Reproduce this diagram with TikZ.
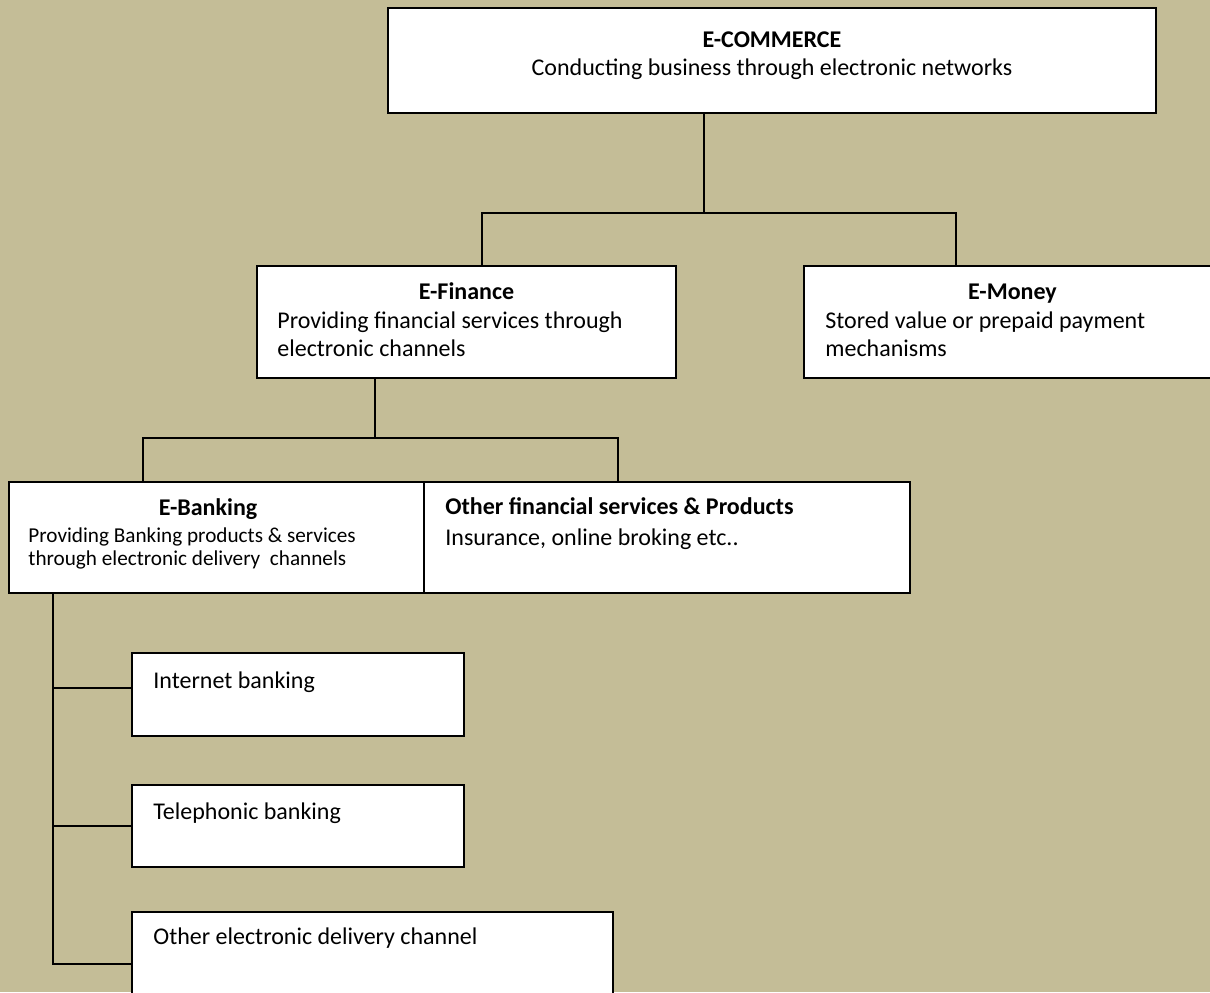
\documentclass[tikz,border=0pt]{standalone}
\usepackage{fontspec}
\setmainfont{Carlito}
\usetikzlibrary{positioning}
\definecolor{tanbg}{HTML}{C4BD97}

\begin{document}
\begin{tikzpicture}[x=0.5pt, y=-0.5pt,
    panel/.style={rectangle, draw, fill=white, line width=0.9pt, inner sep=0pt, outer sep=0pt, anchor=north west},
    txt/.style={inner sep=0pt, font=\fontsize{12pt}{14pt}\selectfont},
    head/.style={txt, font=\fontsize{12pt}{14pt}\selectfont\bfseries},
    link/.style={line width=0.8pt}]

\useasboundingbox (0,0) rectangle (1210,992);
\clip (0,0) rectangle (1210,992);
\fill[tanbg] (0,0) rectangle (1210,992);

% boxes
\node[panel, minimum width=384pt, minimum height=52.5pt] (ecom) at (388,8) {};
\node[panel, minimum width=209.5pt, minimum height=56pt] (efin) at (257,266) {};
\node[panel, minimum width=208.5pt, minimum height=56pt] (emoney) at (804,266) {};
\node[panel, minimum width=207.5pt, minimum height=55.5pt] (ebank) at (9,482) {};
\node[panel, minimum width=243pt, minimum height=55.5pt, right=0pt of ebank] (other) {};
\node[panel, minimum width=166pt, minimum height=41.5pt] (inet) at (132,653) {};
\node[panel, minimum width=166pt, minimum height=41pt, below=24.5pt of inet] (tel) {};
\node[panel, minimum width=240.5pt, minimum height=41.5pt, below=22.5pt of tel.south west, anchor=north west] (oth) {};

% texts
\node[head, anchor=base] (ecomhead) at ([shift={(0,39)}]ecom.north) {E-COMMERCE};
\node[txt, anchor=base] (ecomtxt) at ([shift={(0,67)}]ecom.north) {Conducting business through electronic networks};

\node[head, anchor=base] (efinhead) at ([shift={(0,33)}]efin.north) {E-Finance};
\node[txt, align=left, anchor=base west] (efintxt) at ([shift={(20,90)}]efin.north west)
    {Providing financial services through\\ electronic channels};

\node[head, anchor=base] (emoneyhead) at ([shift={(0,33)}]emoney.north) {E-Money};
\node[txt, align=left, anchor=base west] (emoneytxt) at ([shift={(21,90)}]emoney.north west)
    {Stored value or prepaid payment\\ mechanisms};

\node[head, anchor=base] (ebankhead) at ([shift={(-8.5,33)}]ebank.north) {E-Banking};
\node[txt, align=left, anchor=base west, font=\fontsize{10.6pt}{11.5pt}\selectfont] (ebanktxt) at ([shift={(19,83)}]ebank.north west)
    {Providing Banking products \& services\\ through electronic delivery~ channels};

\node[head, anchor=base west] (otherhead) at ([shift={(21,32)}]other.north west) {Other financial services \& Products};
\node[txt, anchor=base west] (othertxt) at ([shift={(21,63)}]other.north west) {Insurance, online broking etc..};

\node[txt, anchor=base west] (inettxt) at ([shift={(21,35)}]inet.north west) {Internet banking};
\node[txt, anchor=base west] (teltxt) at ([shift={(21,34)}]tel.north west) {Telephonic banking};
\node[txt, anchor=base west] (othtxt) at ([shift={(21,32)}]oth.north west) {Other electronic delivery channel};

% connectors
\coordinate (hubA) at (704,213);
\coordinate (legA1) at (482,213);
\coordinate (legA2) at (956,213);
\draw[link] (ecom.south -| hubA) -- (hubA);
\draw[link] (efin.north -| legA1) -- (legA1) -- (legA2) -- (emoney.north -| legA2);

\coordinate (hubB) at (375,438);
\coordinate (legB1) at (143,438);
\coordinate (legB2) at (618,438);
\draw[link] (efin.south -| hubB) -- (hubB);
\draw[link] (ebank.north -| legB1) -- (legB1) -- (legB2) -- (other.north -| legB2);

\coordinate (spine) at (53,964);
\coordinate (tapA) at (53,688);
\coordinate (tapB) at (53,826);
\draw[link] (ebank.south -| spine) -- (spine) -- (spine -| oth.west);
\draw[link] (tapA) -- (tapA -| inet.west);
\draw[link] (tapB) -- (tapB -| tel.west);

\end{tikzpicture}
\end{document}
